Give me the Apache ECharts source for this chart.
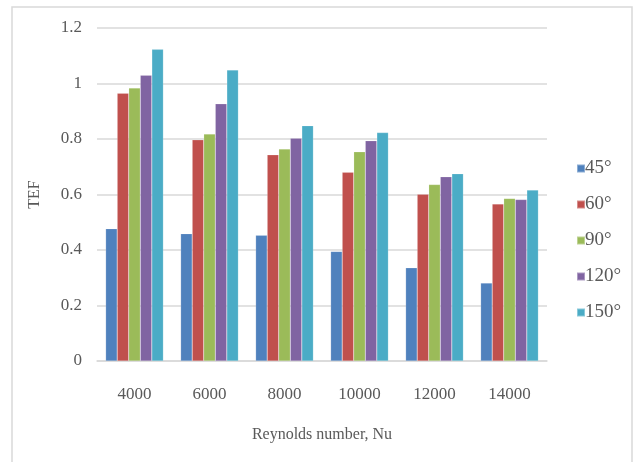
<!DOCTYPE html>
<html>
<head>
<meta charset="utf-8">
<script src="https://cdn.jsdelivr.net/npm/echarts@6/dist/echarts.min.js"></script>
<style>
    html, body { margin: 0; padding: 0; background: #fff; }
    #main { width: 633px; height: 462px; }
</style>
</head>
<body>
<div id="main"></div>
<script>
var categories = ['4000', '6000', '8000', '10000', '12000', '14000'];
var seriesNames = ['45°', '60°', '90°', '120°', '150°'];
var colors = ['#4F81BD', '#C0504D', '#9BBB59', '#8064A2', '#4BACC6'];

var tef45  = [0.477, 0.459, 0.453, 0.395, 0.336, 0.281];
var tef60  = [0.965, 0.797, 0.743, 0.680, 0.601, 0.566];
var tef90  = [0.984, 0.818, 0.764, 0.754, 0.636, 0.586];
var tef120 = [1.030, 0.927, 0.803, 0.794, 0.664, 0.582];
var tef150 = [1.123, 1.049, 0.848, 0.823, 0.675, 0.616];

var yTicks = [0, 0.2, 0.4, 0.6, 0.8, 1, 1.2];

var allData = [tef45, tef60, tef90, tef120, tef150];
var font = '"Liberation Serif", "DejaVu Serif", serif';
var textColor = '#595959';

var series = [];
allData.forEach(function (d, i) {
    series.push({
        name: seriesNames[i],
        type: 'bar',
        data: d,
        barGap: '0%',
        barCategoryGap: '23%',
        itemStyle: {
            color: colors[i],
            borderColor: 'rgba(255,255,255,0.35)',
            borderWidth: 0.5
        }
    });
});

var option = {
    backgroundColor: '#fff',
    animation: false,
    color: colors,
    graphic: [{
        type: 'rect',
        shape: { x: 12, y: 7, width: 620, height: 470 },
        style: { fill: 'none', stroke: '#d9d9d9', lineWidth: 1.5 },
        z: -1
    }],
    grid: {
        left: 97,
        right: 86,
        top: 28,
        bottom: 101
    },
    legend: {
        orient: 'vertical',
        left: 571,
        top: 154,
        itemWidth: 8,
        itemHeight: 8,
        itemGap: 17,
        icon: 'rect',
        data: seriesNames,
        textStyle: {
            fontFamily: font,
            fontSize: 19,
            lineHeight: 17,
            color: textColor,
            padding: [0, 0, 0, -5]
        }
    },
    xAxis: {
        type: 'category',
        data: categories,
        name: 'Reynolds number, Nu',
        nameLocation: 'middle',
        nameGap: 66,
        nameTextStyle: { fontFamily: font, fontSize: 16, color: textColor },
        axisLine: { lineStyle: { color: '#d9d9d9', width: 1.5 } },
        axisTick: { show: false },
        axisLabel: {
            fontFamily: font,
            fontSize: 17,
            color: textColor,
            margin: 25
        }
    },
    yAxis: {
        type: 'value',
        min: yTicks[0],
        max: yTicks[yTicks.length - 1],
        interval: 0.2,
        name: 'TEF',
        nameLocation: 'middle',
        nameGap: 54,
        nameTextStyle: { fontFamily: font, fontSize: 16, color: textColor },
        axisLine: { show: false },
        axisTick: { show: false },
        splitLine: { lineStyle: { color: '#d9d9d9', width: 1.5 } },
        axisLabel: {
            fontFamily: font,
            fontSize: 17,
            color: textColor,
            margin: 15,
            formatter: function (v) { return String(Math.round(v * 10) / 10); }
        }
    },
    series: series
};

var myChart = echarts.init(document.getElementById('main'));
myChart.setOption(option);
</script>
</body>
</html>
